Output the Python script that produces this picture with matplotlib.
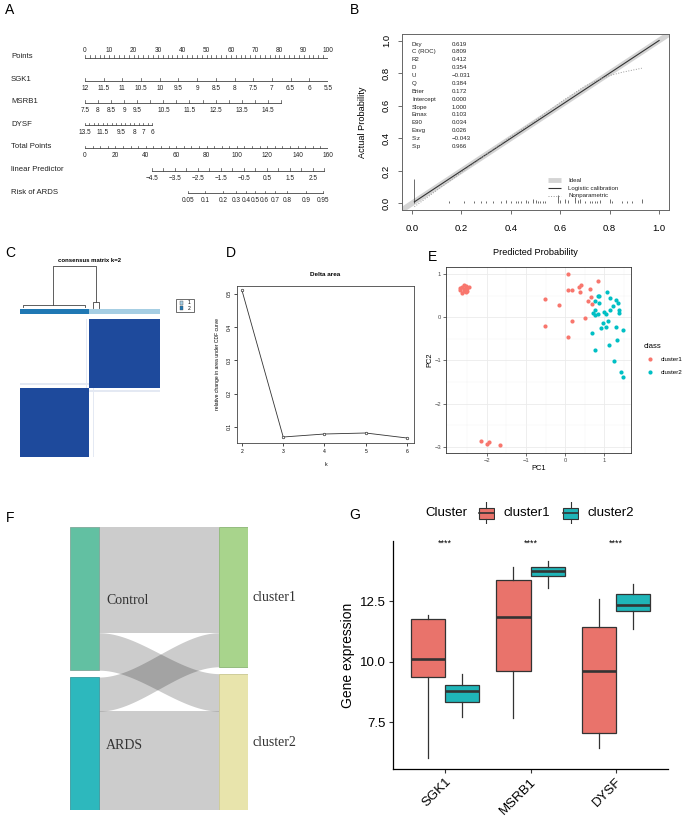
import numpy as np
import matplotlib.pyplot as plt
from matplotlib.colors import LinearSegmentedColormap, ListedColormap
from matplotlib.patches import Rectangle

plt.rcParams['font.family'] = ['Liberation Sans', 'DejaVu Sans']

# ---------------- data ----------------
# A: nomogram scales
points_ticks = np.arange(0, 101, 2)
points_labels = np.arange(0, 101, 10)
sgk1_labels = [12, 11.5, 11, 10.5, 10, 9.5, 9, 8.5, 8, 7.5, 7, 6.5, 6, 5.5]
msrb1_ticks = np.arange(7.5, 15.01, 0.5)
msrb1_labels = [7.5, 8, 8.5, 9, 9.5, 10.5, 11.5, 12.5, 13.5, 14.5]
dysf_ticks = np.arange(6, 13.51, 0.5)
dysf_labels = [13.5, 11.5, 9.5, 8, 7, 6]
total_ticks = np.arange(0, 161, 5)
total_labels = np.arange(0, 161, 20)
lp_ticks = np.arange(-4.5, 3.01, 0.5)
lp_labels = [-4.5, -3.5, -2.5, -1.5, -0.5, 0.5, 1.5, 2.5]
risk_labels = [0.05, 0.1, 0.2, 0.3, 0.4, 0.5, 0.6, 0.7, 0.8, 0.9, 0.95]

# B: calibration
stat_names = ['Dxy', 'C (ROC)', 'R2', 'D', 'U', 'Q', 'Brier', 'Intercept', 'Slope',
              'Emax', 'E90', 'Eavg', 'S:z', 'S:p']
stat_vals = ['0.619', '0.809', '0.412', '0.354', '\u22120.031', '0.384', '0.172', '0.000',
             '1.000', '0.103', '0.034', '0.026', '\u22120.043', '0.966']
np_x = [0.01, 0.1, 0.2, 0.3, 0.4, 0.5, 0.6, 0.7, 0.75, 0.8, 0.85, 0.93]
np_y = [-0.02, 0.08, 0.19, 0.3, 0.41, 0.51, 0.62, 0.72, 0.755, 0.785, 0.805, 0.83]
rug_x = [0.01, 0.15, 0.21, 0.25, 0.28, 0.30, 0.33, 0.36, 0.38, 0.40, 0.42, 0.43, 0.44,
         0.46, 0.47, 0.49, 0.50, 0.51, 0.52, 0.53, 0.54, 0.59, 0.60, 0.62, 0.63, 0.66,
         0.67, 0.68, 0.70, 0.72, 0.73, 0.74, 0.75, 0.76, 0.80, 0.81, 0.85, 0.87, 0.89, 0.93]
rug_h = [0.15, 0.015, 0.015, 0.015, 0.015, 0.015, 0.015, 0.015, 0.02, 0.015, 0.015, 0.015, 0.015,
         0.02, 0.015, 0.03, 0.02, 0.015, 0.015, 0.015, 0.015, 0.055, 0.02, 0.03, 0.02, 0.04,
         0.02, 0.03, 0.015, 0.015, 0.015, 0.015, 0.015, 0.02, 0.03, 0.015, 0.015, 0.015, 0.015, 0.03]

# C: consensus clustering
n_left, n_right = 40, 41
weak_left, weak_right = 38, 42
weak_value = 0.12

# D: delta area
k_vals = [2, 3, 4, 5, 6]
delta_area = [0.51, 0.07, 0.079, 0.082, 0.067]

# E: PCA
c1_pc1 = [-2.7, -2.65, -2.6, -2.55, -2.5, -2.45, -2.6, -2.55, -2.65, -2.7, -2.5, -2.58,
          -2.16, -1.99, -1.95, -1.67,
          0.07, 0.07, 0.17, 0.40, 0.37, 0.84, 0.63, 0.38, -0.51, -0.15, 0.66, 0.59, 0.68,
          0.17, 0.52, -0.52, 0.08]
c1_pc2 = [0.62, 0.70, 0.75, 0.72, 0.68, 0.70, 0.60, 0.58, 0.55, 0.68, 0.60, 0.66,
          -2.86, -2.93, -2.88, -2.95,
          1.0, 0.63, 0.63, 0.74, 0.70, 0.83, 0.64, 0.59, 0.43, 0.28, 0.47, 0.37, 0.31,
          -0.09, -0.03, -0.21, -0.46]
c2_pc1 = [0.85, 0.88, 1.14, 1.08, 1.31, 1.36, 1.24, 1.39, 1.37, 1.14, 1.01, 1.04, 0.76,
          0.72, 0.78, 0.84, 0.86, 0.78, 1.10, 0.96, 0.91, 1.05, 1.31, 1.49, 0.70, 1.33,
          1.13, 0.77, 1.26, 1.44, 1.48]
c2_pc2 = [0.49, 0.48, 0.44, 0.58, 0.40, 0.33, 0.26, 0.16, 0.09, 0.16, 0.11, 0.08, 0.16,
          0.10, 0.06, 0.08, 0.32, 0.37, -0.09, -0.14, -0.26, -0.22, -0.22, -0.30, -0.36,
          -0.52, -0.64, -0.77, -1.02, -1.26, -1.39]

# F: sankey
sources = ['Control', 'ARDS']
targets = ['cluster1', 'cluster2']
flows = [[31, 11], [10, 29]]
source_colors = ['#62C0A2', '#2DB8BD']
target_colors = ['#A8D48C', '#E8E4AC']

# G: boxplot summaries
genes = ['SGK1', 'MSRB1', 'DYSF']
c1_lo = [6.02, 7.66, 6.43]
c1_q1 = [9.35, 9.60, 7.04]
c1_med = [10.11, 11.86, 9.60]
c1_q3 = [11.74, 13.35, 11.42]
c1_hi = [11.94, 13.91, 12.59]
c2_lo = [7.70, 13.04, 11.35]
c2_q1 = [8.32, 13.55, 12.08]
c2_med = [8.80, 13.76, 12.33]
c2_q3 = [9.05, 13.91, 12.77]
c2_hi = [9.49, 14.15, 13.21]
signif = ['****', '****', '****']

# ---------------- figure ----------------
W, H = 685, 817
fig = plt.figure(figsize=(W / 100, H / 100), dpi=100)


def px_axes(l, t, r, b):
    return fig.add_axes([l / W, 1 - b / H, (r - l) / W, (b - t) / H])


def fx(x):
    return x / W


def fy(y):
    return 1 - y / H


for lab, x, y in [('A', 5, 10), ('B', 350, 10), ('C', 5, 253), ('D', 226, 253),
                  ('E', 428, 257), ('F', 6, 518), ('G', 349, 515)]:
    fig.text(fx(x), fy(y), lab, fontsize=10, va='center', ha='left')

# ---------------- A: nomogram ----------------
axA = px_axes(85, 40, 328, 215)
axA.set_xlim(0, 100)
axA.set_ylim(215, 40)
axA.axis('off')


def sgk1_pts(v):
    return (12 - np.asarray(v, float)) / 6.5 * 100


def msrb1_pts(v):
    return (np.asarray(v, float) - 7.5) * 10.75


def dysf_pts(v):
    return (13.5 - np.asarray(v, float)) * 3.68


def total_pts(v):
    return np.asarray(v, float) * 100 / 160


def lp_pts(v):
    return total_pts(44 + (np.asarray(v, float) + 4.5) * 15.14)


def risk_pts(p):
    p = np.asarray(p, float)
    return lp_pts(np.log(p / (1 - p)))


def fmt(v):
    s = ('%g' % v)
    return s.replace('-', '\u2212')


def nomo_row(name, y, ticks, labpos, labtxt, above=False):
    ticks = np.asarray(ticks)
    axA.plot([ticks.min(), ticks.max()], [y, y], color='#444444', lw=0.6)
    for t in ticks:
        axA.plot([t, t], [y, y - 2.2], color='#444444', lw=0.5)
    for p, s in zip(labpos, labtxt):
        axA.text(p, y - 7 if above else y + 7.5, s, ha='center', va='center',
                 fontsize=4.7, color='#222222')
    axA.text(-30.5, y - 1, name, ha='left', va='center', fontsize=5.6, color='#222222',
             clip_on=False)


nomo_row('Points', 57.7, points_ticks, points_labels, [fmt(v) for v in points_labels], above=True)
nomo_row('SGK1', 80.7, sgk1_pts(sgk1_labels), sgk1_pts(sgk1_labels), [fmt(v) for v in sgk1_labels])
nomo_row('MSRB1', 102.7, msrb1_pts(msrb1_ticks), msrb1_pts(msrb1_labels), [fmt(v) for v in msrb1_labels])
nomo_row('DYSF', 125.5, dysf_pts(dysf_ticks), dysf_pts(dysf_labels), [fmt(v) for v in dysf_labels])
nomo_row('Total Points', 148, total_pts(total_ticks), total_pts(total_labels), [fmt(v) for v in total_labels])
nomo_row('linear Predictor', 170.7, lp_pts(lp_ticks), lp_pts(lp_labels), [fmt(v) for v in lp_labels])
nomo_row('Risk of ARDS', 193.5, risk_pts(risk_labels), risk_pts(risk_labels), [fmt(v) for v in risk_labels])

# ---------------- B: calibration ----------------
axB = px_axes(402, 34, 669, 210)
axB.set_xlim(-0.04, 1.04)
axB.set_ylim(-0.04, 1.04)
axB.plot([-0.1, 1.1], [-0.1, 1.1], color='#d4d4d4', lw=4, solid_capstyle='butt')
axB.plot([0.01, 1.0], [0.01, 1.0], color='#333333', lw=0.8)
axB.plot(np_x, np_y, color='#9a9a9a', lw=0.7, ls=':')
axB.vlines(rug_x, 0, rug_h, color='#333333', lw=0.5)
for i, (n, v) in enumerate(zip(stat_names, stat_vals)):
    yy = 0.978 - i * 0.0483
    axB.text(0.0, yy, n, fontsize=4.4, va='center', ha='left', color='#222222')
    axB.text(0.162, yy, v, fontsize=4.4, va='center', ha='left', color='#222222')
leg_items = [('Ideal', dict(color='#d4d4d4', lw=3.5)),
             ('Logistic calibration', dict(color='#333333', lw=0.8)),
             ('Nonparametric', dict(color='#9a9a9a', lw=0.7, ls=':'))]
for i, (lab, kw) in enumerate(leg_items):
    yy = 0.144 - i * 0.049
    axB.plot([0.55, 0.605], [yy, yy], solid_capstyle='butt', **kw)
    axB.text(0.632, yy, lab, fontsize=4.4, va='center', ha='left', color='#222222')
axB.set_xticks(np.arange(0, 1.01, 0.2))
axB.set_xticklabels(['%.1f' % v for v in np.arange(0, 1.01, 0.2)])
axB.set_yticks(np.arange(0, 1.01, 0.2))
axB.set_yticklabels(['%.1f' % v for v in np.arange(0, 1.01, 0.2)], rotation=90, va='center')
axB.tick_params(labelsize=6.8, length=3, width=0.6, color='#555555', pad=7)
axB.tick_params(axis='y', pad=5)
for s in axB.spines.values():
    s.set_color('#666666')
    s.set_linewidth(0.7)
axB.set_xlabel('Predicted Probability', fontsize=6.6, labelpad=11)
axB.set_ylabel('Actual Probability', fontsize=6.6, labelpad=11)

# ---------------- C: consensus matrix ----------------
groups = np.r_[np.zeros(n_left), np.ones(n_right)]
cons = (groups[:, None] == groups[None, :]).astype(float)
cons[weak_left, n_left:] = weak_value
cons[n_left:, weak_left] = weak_value
cons[weak_right, :n_left] = weak_value
cons[:n_left, weak_right] = weak_value
axC = px_axes(20, 319, 160, 457)
cmapC = LinearSegmentedColormap.from_list('cons', ['#ffffff', '#1E4A9C'])
axC.imshow(cons, cmap=cmapC, origin='lower', aspect='auto', vmin=0, vmax=1,
           interpolation='nearest')
axC.axis('off')

axCbar = px_axes(20, 309, 160, 314)
axCbar.imshow(groups[None, :], cmap=ListedColormap(['#1F78B4', '#A6CEE3']),
              aspect='auto', interpolation='nearest')
axCbar.axis('off')

axCd = px_axes(20, 262, 160, 309)
axCd.set_xlim(0, n_left + n_right)
axCd.set_ylim(0, 1)
axCd.axis('off')
lc_a, lc_b = 1.7, n_left - 2.4
rc_a, rc_b = n_left + 2.2, n_left + 5.7
lc, rc = (lc_a + lc_b) / 2 - 0.5, (rc_a + rc_b) / 2
dk = dict(color='#444444', lw=0.6)
axCd.plot([lc_a, lc_a, lc_b, lc_b], [0.04, 0.085, 0.085, 0.04], **dk)
axCd.plot([rc_a, rc_a, rc_b, rc_b], [0.02, 0.15, 0.15, 0.02], **dk)
axCd.plot([lc, lc, rc, rc], [0.085, 0.915, 0.915, 0.15], **dk)
fig.text(fx(90), fy(261), 'consensus matrix k=2', fontsize=4.3, fontweight='bold',
         ha='center', va='center')
fig.patches.append(Rectangle((fx(176), fy(312)), fx(18), (312 - 299) / H, transform=fig.transFigure,
                             fill=False, edgecolor='#555555', lw=0.6))
for yy, col, lab in [(303, '#A6CEE3', '1'), (308, '#1F78B4', '2')]:
    fig.patches.append(Rectangle((fx(179.5), fy(yy + 1.7)), fx(3.5), 3.4 / H,
                                 transform=fig.transFigure, facecolor=col,
                                 edgecolor='#555555', lw=0.3))
    fig.text(fx(188), fy(yy), lab, fontsize=3.6, va='center', ha='left')

# ---------------- D: delta area ----------------
axD = px_axes(237, 286, 414, 443)
axD.plot(k_vals, delta_area, color='#333333', lw=0.6, marker='o', ms=1.8,
         mfc='white', mec='#333333', mew=0.5)
axD.set_xlim(1.88, 6.17)
axD.set_ylim(0.052, 0.523)
axD.set_xticks(k_vals)
axD.set_yticks([0.1, 0.2, 0.3, 0.4, 0.5])
axD.set_yticklabels(['0.1', '0.2', '0.3', '0.4', '0.5'], rotation=90, va='center')
axD.tick_params(labelsize=3.6, length=2, width=0.5, pad=2)
for s in axD.spines.values():
    s.set_linewidth(0.6)
    s.set_color('#444444')
axD.set_title('Delta area', fontsize=4.6, fontweight='bold', pad=7)
axD.set_xlabel('k', fontsize=3.8, labelpad=6)
axD.set_ylabel('relative change in area under CDF curve', fontsize=3.6, labelpad=5)

# ---------------- E: PCA ----------------
axE = px_axes(446, 267, 631, 453)
axE.set_facecolor('white')
axE.set_xlim(-3.05, 1.69)
axE.set_ylim(-3.14, 1.16)
axE.set_xticks([-2, -1, 0, 1])
axE.set_yticks([-3, -2, -1, 0, 1])
axE.set_xticks(np.arange(-2.5, 1.6, 1.0), minor=True)
axE.set_yticks(np.arange(-2.5, 1.1, 1.0), minor=True)
axE.grid(which='major', color='#EBEBEB', lw=0.6)
axE.grid(which='minor', color='#F3F3F3', lw=0.35)
axE.set_axisbelow(True)
axE.scatter(c1_pc1, c1_pc2, s=9, color='#F8766D', lw=0, zorder=3)
axE.scatter(c2_pc1, c2_pc2, s=9, color='#00BFC4', lw=0, zorder=3)
axE.set_xticklabels(['\u22122', '\u22121', '0', '1'])
axE.set_yticklabels(['\u22123', '\u22122', '\u22121', '0', '1'])
axE.tick_params(which='major', labelsize=4.2, length=2, width=0.5, color='#333333',
                labelcolor='#4D4D4D', pad=1.5)
axE.tick_params(which='minor', length=0)
for s in axE.spines.values():
    s.set_color('#333333')
    s.set_linewidth(0.6)
axE.set_xlabel('PC1', fontsize=5.4, labelpad=1.5)
axE.set_ylabel('PC2', fontsize=5.4, labelpad=1)
axE.text(1.07, 0.575, 'class', transform=axE.transAxes, fontsize=5.6, va='center', ha='left')
for yy, col, lab in [(0.505, '#F8766D', 'cluster1'), (0.435, '#00BFC4', 'cluster2')]:
    axE.scatter([1.103], [yy], s=9, color=col, lw=0, transform=axE.transAxes, clip_on=False)
    axE.text(1.162, yy, lab, transform=axE.transAxes, fontsize=4.5, va='center', ha='left')

# ---------------- F: sankey ----------------
axF = px_axes(70, 527, 248, 810)
gap = 2
total = sum(sum(r) for r in flows)
src_tot = [sum(r) for r in flows]
tgt_tot = [sum(flows[i][j] for i in range(2)) for j in range(2)]
axF.set_xlim(0, 1)
axF.set_ylim(total + gap, 0)
axF.axis('off')
node_w = 0.163
src_top = np.cumsum([0] + [v + gap for v in src_tot[:-1]])
tgt_top = np.cumsum([0] + [v + gap for v in tgt_tot[:-1]])
for i in range(2):
    axF.add_patch(Rectangle((0, src_top[i]), node_w, src_tot[i], facecolor=source_colors[i],
                            edgecolor='#7fa89a' if i == 0 else '#3a9aa0', lw=0.6, zorder=3))
    axF.text(node_w + 0.04, src_top[i] + src_tot[i] * 0.5 + 0.5, sources[i],
             family=['Liberation Serif', 'DejaVu Serif'], fontsize=10, va='center',
             ha='left', color='#333333', zorder=4)
for j in range(2):
    axF.add_patch(Rectangle((1 - node_w, tgt_top[j]), node_w, tgt_tot[j],
                            facecolor=target_colors[j],
                            edgecolor='#8bb574' if j == 0 else '#c9c690', lw=0.6, zorder=3))
    axF.text(1 + 0.025, tgt_top[j] + tgt_tot[j] * 0.5 + 0.3, targets[j],
             family=['Liberation Serif', 'DejaVu Serif'], fontsize=10, va='center',
             ha='left', color='#333333', clip_on=False)
xs = np.linspace(node_w, 1 - node_w, 200)
tt = (xs - node_w) / (1 - 2 * node_w)
smooth = 3 * tt ** 2 - 2 * tt ** 3
src_off = list(src_top)
tgt_off = list(tgt_top)
for i in range(2):
    for j in range(2):
        v = flows[i][j]
        top = src_off[i] + (tgt_off[j] - src_off[i]) * smooth
        axF.fill_between(xs, top, top + v, color='black', alpha=0.2, lw=0, zorder=1)
        src_off[i] += v
        tgt_off[j] += v

# ---------------- G: boxplot ----------------
axG = px_axes(393, 541, 668, 769)
pos = np.arange(1, len(genes) + 1)


def stats(lo, q1, med, q3, hi):
    return [dict(whislo=a, q1=b, med=c, q3=d, whishi=e, fliers=[])
            for a, b, c, d, e in zip(lo, q1, med, q3, hi)]


box_kw = dict(widths=0.4, showcaps=False, showfliers=False, patch_artist=True,
              whiskerprops=dict(color='#333333', lw=0.9),
              medianprops=dict(color='#333333', lw=1.9, solid_capstyle='butt'))
for st, offs, col in [(stats(c1_lo, c1_q1, c1_med, c1_q3, c1_hi), -0.2, '#E9736B'),
                      (stats(c2_lo, c2_q1, c2_med, c2_q3, c2_hi), 0.2, '#1FB5B8')]:
    axG.bxp(st, positions=pos + offs,
            boxprops=dict(facecolor=col, edgecolor='#333333', lw=0.9), **box_kw)
for p, s in zip(pos, signif):
    axG.text(p, 14.88, s, ha='center', va='center', fontsize=6.5)
axG.set_xlim(0.39, 3.61)
axG.set_ylim(5.56, 14.98)
axG.set_xticks(pos)
axG.set_xticklabels(genes, rotation=45, ha='right', rotation_mode='anchor')
axG.set_yticks([7.5, 10.0, 12.5])
axG.set_yticklabels(['7.5', '10.0', '12.5'])
axG.tick_params(labelsize=9.5, length=3, width=0.8, color='#333333', pad=2)
for s in ['top', 'right']:
    axG.spines[s].set_visible(False)
for s in ['left', 'bottom']:
    axG.spines[s].set_linewidth(0.9)
axG.set_ylabel('Gene expression', fontsize=10, labelpad=4)

# G legend
fig.text(fx(425), fy(513), 'Cluster', fontsize=9.5, va='center', ha='left')
for x0, col, lab in [(479, '#E9736B', 'cluster1'), (563, '#1FB5B8', 'cluster2')]:
    axL = px_axes(x0 - 1, 502, x0 + 16, 524)
    axL.set_xlim(0, 1)
    axL.set_ylim(0, 1)
    axL.axis('off')
    axL.add_patch(Rectangle((0.06, 0.25), 0.88, 0.5, facecolor=col, edgecolor='#333333', lw=0.8))
    axL.plot([0.06, 0.94], [0.5, 0.5], color='#333333', lw=1.2)
    axL.plot([0.5, 0.5], [0.75, 1.0], color='#333333', lw=0.8)
    axL.plot([0.5, 0.5], [0.0, 0.25], color='#333333', lw=0.8)
    fig.text(fx(x0 + 24), fy(513), lab, fontsize=9.5, va='center', ha='left')

fig.savefig('out.png', dpi=100)
